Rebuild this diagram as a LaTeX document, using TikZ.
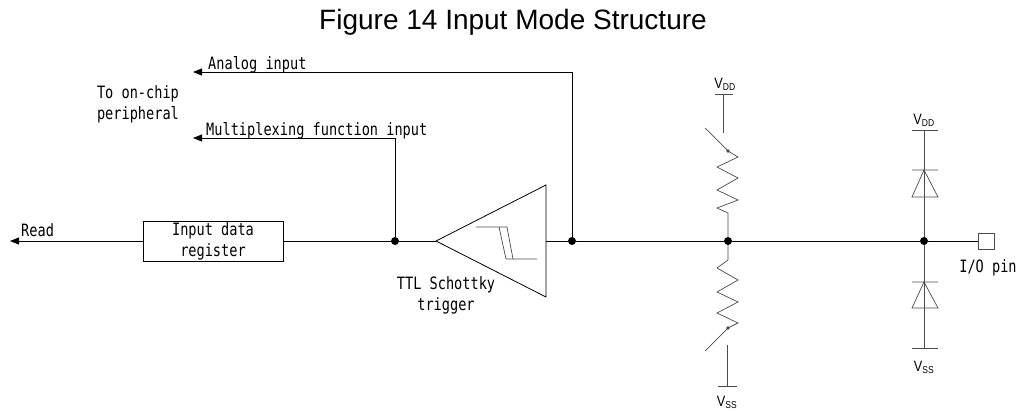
\documentclass[tikz,border=0pt]{standalone}
\usepackage{fontspec}
\setmainfont{Liberation Sans}
\newfontfamily\lblfont[FakeStretch=0.8]{DejaVu Sans Mono}
\newfontfamily\supfont[FakeStretch=0.85]{Liberation Sans}
\usetikzlibrary{arrows.meta}

\tikzset{
  wire/.style={line width=0.8pt},
  part/.style={line width=0.7pt, draw=black!70},
  junction/.style={circle, fill, inner sep=0pt, minimum size=8pt},
  tip/.style={-{Triangle[length=9pt,width=7pt]}},
  lbl/.style={font=\lblfont\fontsize{17}{21}\selectfont, inner sep=0pt},
  supply/.style={font=\supfont\fontsize{15}{15}\selectfont, inner sep=0pt}
}
\newcommand{\vsup}[1]{V\textsubscript{\fontsize{10}{10}\selectfont #1}}

\begin{document}
\begin{tikzpicture}[x=1pt, y=-1pt]
    \useasboundingbox (0,0) rectangle (1017,410);

    % Title
    \node[font=\fontsize{28}{32}\selectfont] (title) at (513,22) {Figure 14 Input Mode Structure};

    % Junctions on the main line
    \node[junction] (jmux) at (395,241) {};
    \node[junction] (jana) at (572,241) {};
    \node[junction] (jres) at (728,241) {};
    \node[junction] (jdio) at (924,241) {};

    % Read side
    \coordinate (readend) at (10,241);
    \node[draw, wire, minimum width=140pt, minimum height=40pt, align=center, lbl] (reg) at (213,241) {Input data\\register};
    \draw[wire, tip] (reg.west) -- (readend);
    \node[lbl, anchor=base west] (read) at (21,236) {Read};
    \draw[wire] (reg.east) -- (jmux);

    % Schmitt trigger
    \coordinate (trigin) at (436,241);
    \coordinate (trigtop) at (546,185);
    \coordinate (trigbot) at (546,297);
    \coordinate (trigout) at (546,241);
    \draw[wire] (trigin) -- (trigtop) -- (trigbot) -- cycle;
    \draw[part] (476,227) -- (507,227) (499,227) -- (506,259) (507,227) -- (513,259) (506,259) -- (537,259);
    \node[lbl, align=center] (trigname) at (446,295) {TTL Schottky\\trigger};
    \draw[wire] (jmux) -- (trigin);
    \draw[wire] (trigout) -- (jana) -- (jres) -- (jdio);

    % To on-chip peripheral
    \coordinate (anaend) at (193,72);
    \coordinate (muxend) at (193,138);
    \draw[wire, tip] (jana) |- (anaend);
    \draw[wire, tip] (jmux) |- (muxend);
    \node[lbl, anchor=base west] (analog) at (208,69) {Analog input};
    \node[lbl, anchor=base west] (mux) at (206,135) {Multiplexing function input};
    \node[lbl, align=left] (periph) at (138,104) {To on-chip\\peripheral};

    % Pull-up
    \node[supply] (vddup) at (725,84) {\vsup{DD}};
    \draw[part] (715,94) -- (733,94) (723,94) -- (723,133);
    \draw[part] (705,128) -- (728,151);
    \fill[black!70] (728,151) circle (1.8);
    \draw[part] (728,151) -- (738,157) -- (717,167) -- (738,178) -- (717,190)
        -- (738,200) -- (717,208) -- (728,213) -- (jres);

    % Pull-down
    \draw[part] (jres) -- (728,260) -- (717,268) -- (738,280) -- (717,292)
        -- (738,302) -- (717,313) -- (738,323) -- (728,328);
    \fill[black!70] (728,328) circle (1.8);
    \draw[part] (728,328) -- (705,351);
    \draw[part] (727,345) -- (727,386) (718,386) -- (737,386);
    \node[supply] (vssdown) at (727,402) {\vsup{SS}};

    % Protection diodes
    \node[supply] (vddpin) at (924,120) {\vsup{DD}};
    \draw[part] (912,130) -- (938,130) (924,130) -- (jdio);
    \draw[part] (912,170) -- (938,170) (924,170) -- (912,197) -- (938,197) -- cycle;
    \draw[part] (jdio) -- (924,348) (912,348) -- (938,348);
    \draw[part] (912,282) -- (938,282) (924,282) -- (912,308) -- (938,308) -- cycle;
    \node[supply] (vsspin) at (924,367) {\vsup{SS}};

    % I/O pin
    \node[draw=black!70, line width=0.7pt, minimum size=16pt, inner sep=0pt] (pin) at (986.5,241) {};
    \draw[wire] (jdio) -- (pin);
    \node[lbl] (pinname) at (988,268) {I/O pin};
\end{tikzpicture}
\end{document}
